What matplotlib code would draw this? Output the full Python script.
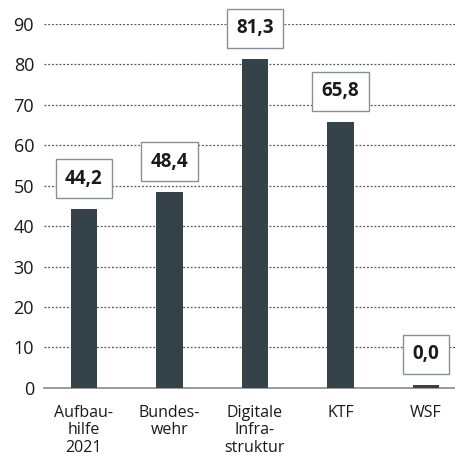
import matplotlib
matplotlib.use("Agg")
import matplotlib.pyplot as plt
import numpy as np

categories = ["Aufbau-\nhilfe\n2021", "Bundes-\nwehr", "Digitale\nInfra-\nstruktur", "KTF", "WSF"]
values = [44.2, 48.4, 81.3, 65.8, 0.0]
yticks = [0, 10, 20, 30, 40, 50, 60, 70, 80, 90]

plt.rcParams["font.family"] = ["Open Sans", "DejaVu Sans"]

fig = plt.figure(figsize=(4.56, 4.59), dpi=100)
ax = fig.add_axes([0.096, 0.155, 0.902, 0.793])

x = np.arange(len(categories))
# tiny bars still get a visible stub, as in the source chart
heights = [max(v, 0.7) for v in values]
ax.bar(x, heights, width=0.31, color="#36424a", zorder=3)

for xi, v, h in zip(x, values, heights):
    ax.annotate(f"{v:.1f}".replace(".", ","), (xi, h), xytext=(0, 22),
                textcoords="offset points", ha="center", va="center",
                fontsize=13.5, fontweight="bold", color="#1a1a1a", zorder=5,
                bbox=dict(boxstyle="square,pad=0.5", fc="white", ec="#8a8f93", lw=1.0),
                annotation_clip=False)

ax.set_xlim(-0.47, 4.34)
ax.set_ylim(0, 90)
ax.set_yticks(yticks)
ax.set_yticklabels([str(t) for t in yticks])
ax.set_xticks(x)
ax.set_xticklabels(categories, linespacing=1.15)
ax.tick_params(axis="y", length=0, labelsize=13, colors="#1a1a1a", pad=7)
ax.tick_params(axis="x", length=0, labelsize=11.5, colors="#1a1a1a", pad=12)

for t in yticks[1:]:
    ax.axhline(t, color="#555555", lw=0.9, linestyle=(0, (1.5, 1.5)), zorder=1)

for s in ["top", "right", "left"]:
    ax.spines[s].set_visible(False)
ax.spines["bottom"].set_color("#8a8a8a")
ax.spines["bottom"].set_linewidth(1.2)

fig.savefig("out.png", dpi=100)
